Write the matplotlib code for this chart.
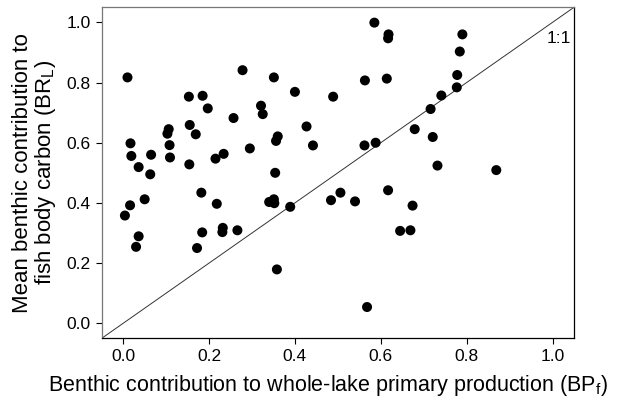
import matplotlib
matplotlib.use("Agg")
import matplotlib.pyplot as plt

plt.rcParams['font.family'] = ['Liberation Sans', 'DejaVu Sans']

# Benthic contribution to whole-lake primary production (BPf)
bp_f = [0.010, 0.278, 0.351, 0.400, 0.489, 0.153, 0.185, 0.197, 0.321, 0.325,
        0.257, 0.106, 0.103, 0.155, 0.169, 0.427, 0.360, 0.356, 0.442, 0.017,
        0.108, 0.019, 0.065, 0.109, 0.215, 0.234, 0.295, 0.036, 0.063, 0.154,
        0.354, 0.585, 0.618, 0.617, 0.790, 0.784, 0.778, 0.777, 0.563, 0.614,
        0.741, 0.716, 0.679, 0.721, 0.562, 0.588, 0.732, 0.869, 0.182, 0.016,
        0.004, 0.050, 0.218, 0.036, 0.030, 0.184, 0.172, 0.232, 0.231, 0.266,
        0.340, 0.351, 0.352, 0.389, 0.358, 0.484, 0.506, 0.540, 0.617, 0.674,
        0.645, 0.669, 0.568]
# Mean benthic contribution to fish body carbon (BRL)
br_l = [0.817, 0.841, 0.817, 0.769, 0.753, 0.753, 0.756, 0.714, 0.723, 0.695,
        0.682, 0.645, 0.630, 0.659, 0.628, 0.654, 0.621, 0.606, 0.591, 0.598,
        0.592, 0.556, 0.560, 0.551, 0.547, 0.563, 0.581, 0.519, 0.495, 0.528,
        0.500, 0.999, 0.960, 0.947, 0.960, 0.903, 0.825, 0.784, 0.807, 0.813,
        0.757, 0.712, 0.645, 0.619, 0.591, 0.600, 0.524, 0.509, 0.434, 0.392,
        0.358, 0.412, 0.397, 0.289, 0.254, 0.302, 0.250, 0.317, 0.303, 0.309,
        0.403, 0.412, 0.399, 0.387, 0.179, 0.409, 0.434, 0.405, 0.442, 0.391,
        0.307, 0.309, 0.054]

ticks = [0.0, 0.2, 0.4, 0.6, 0.8, 1.0]

fig = plt.figure(figsize=(6.18, 4.03), dpi=100)
ax = fig.add_axes([0.1646, 0.1605, 0.7642, 0.8214])

# 1:1 line
ax.plot([-0.05, 1.05], [-0.05, 1.05], color='#333333', lw=0.7, zorder=1)
ax.text(1.042, 0.945, '1:1', ha='right', va='center', fontsize=12.5)

ax.scatter(bp_f, br_l, s=52, color='black', edgecolors='none', zorder=2)

ax.set_xlim(-0.05, 1.05)
ax.set_ylim(-0.05, 1.05)
ax.set_xticks(ticks)
ax.set_yticks(ticks)
ax.set_xticklabels([f'{t:.1f}' for t in ticks])
ax.set_yticklabels([f'{t:.1f}' for t in ticks])
ax.tick_params(direction='out', length=4, width=0.8, labelsize=12.5, pad=4)

for side in ['left', 'top']:
    ax.spines[side].set_color('#777777')
for side in ['bottom', 'right']:
    ax.spines[side].set_color('black')
for sp in ax.spines.values():
    sp.set_linewidth(0.9)

ax.set_xlabel('Benthic contribution to whole-lake primary production (BP$_\\mathregular{f}$)',
              fontsize=15.5)
ax.xaxis.set_label_coords(0.479, -0.105)
ax.set_ylabel('Mean benthic contribution to\nfish body carbon (BR$_\\mathregular{L}$)',
              fontsize=16, labelpad=6, linespacing=1.0)

fig.savefig('out.png', dpi=100)
